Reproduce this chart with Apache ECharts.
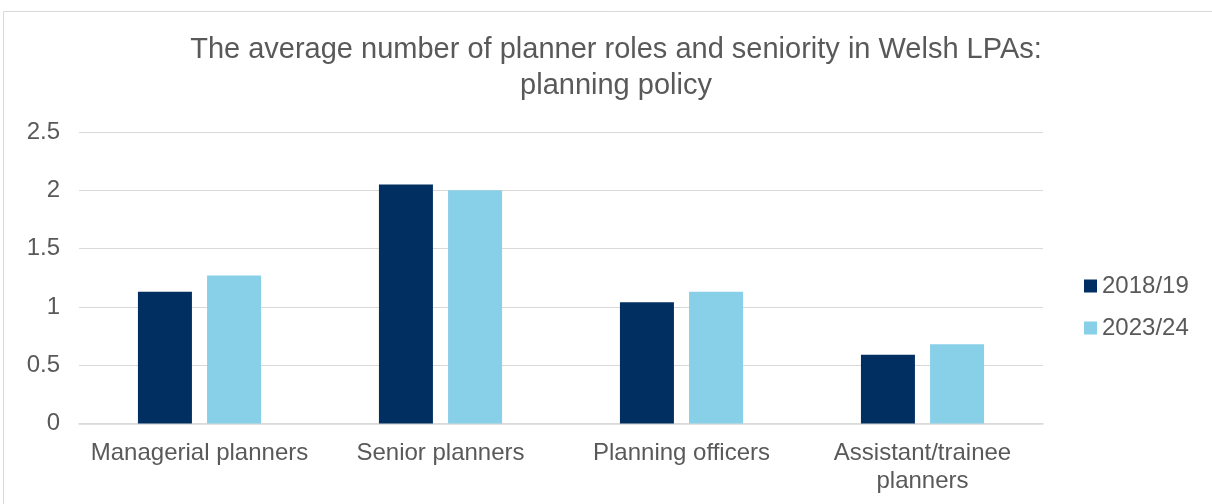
<!DOCTYPE html>
<html>
<head>
<meta charset="utf-8">
<script src="https://cdn.jsdelivr.net/npm/echarts@6/dist/echarts.min.js"></script>
<style>
  html, body { margin: 0; padding: 0; background: #fff; }
  #chart { width: 1212px; height: 504px; }
</style>
</head>
<body>
<div id="chart"></div>
<script>
// Average planner roles per Welsh LPA, planning policy teams
const categories = ['Managerial planners', 'Senior planners', 'Planning officers', 'Assistant/trainee\nplanners'];
const values2018 = [1.13, 2.05, 1.04, 0.59];
const values2023 = [1.27, 2.0, 1.13, 0.68];
const seriesNames = ['2018/19', '2023/24'];
const yTicks = { min: 0, max: 2.5, interval: 0.5 };

const FONT = '"Liberation Sans", Arial, sans-serif';
const TEXT = '#595959';

const chart = echarts.init(document.getElementById('chart'));
chart.setOption({
  animation: false,
  textStyle: { fontFamily: FONT },
  graphic: [{
    type: 'rect',
    shape: { x: 3.5, y: 11.5, width: 1240, height: 520 },
    style: { fill: 'none', stroke: '#d9d9d9', lineWidth: 1 },
    silent: true
  }],
  title: {
    text: 'The average number of planner roles and seniority in Welsh LPAs:\nplanning policy',
    left: 611,
    top: 27,
    textAlign: 'center',
    textStyle: { fontFamily: FONT, fontSize: 29, fontWeight: 'normal', color: TEXT, lineHeight: 36 }
  },
  legend: {
    orient: 'vertical',
    left: 1079,
    top: 269,
    itemWidth: 13,
    itemHeight: 13,
    itemGap: 18,
    icon: 'rect',
    textStyle: { fontFamily: FONT, fontSize: 24, color: TEXT },
    data: seriesNames
  },
  grid: { left: 79, right: 169, top: 132, bottom: 80.5, containLabel: false },
  xAxis: {
    type: 'category',
    data: categories,
    axisLine: { show: true, lineStyle: { color: '#d9d9d9', width: 1.5 } },
    axisTick: { show: false },
    axisLabel: { fontFamily: FONT, fontSize: 24, color: TEXT, margin: 16, lineHeight: 28, interval: 0 }
  },
  yAxis: {
    type: 'value',
    min: yTicks.min,
    max: yTicks.max,
    interval: yTicks.interval,
    axisLine: { show: false },
    axisTick: { show: false },
    splitLine: { lineStyle: { color: '#d9d9d9', width: 1 } },
    axisLabel: { fontFamily: FONT, fontSize: 24, color: TEXT, margin: 19 }
  },
  series: [
    {
      name: seriesNames[0],
      type: 'bar',
      data: values2018,
      barWidth: 54,
      barGap: '28%',
      itemStyle: { color: '#022F62' }
    },
    {
      name: seriesNames[1],
      type: 'bar',
      data: values2023,
      barWidth: 54,
      barGap: '28%',
      itemStyle: { color: '#88CFE8' }
    }
  ]
});
</script>
</body>
</html>
